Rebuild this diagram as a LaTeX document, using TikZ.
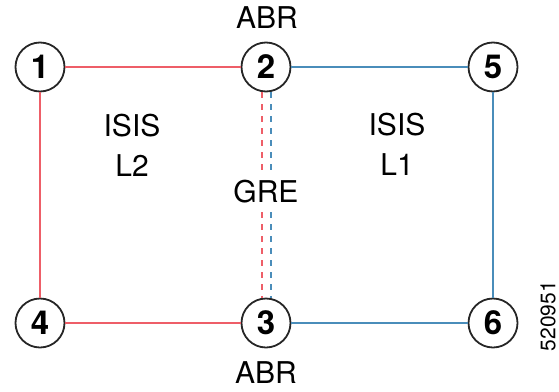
\documentclass[tikz,border=0pt]{standalone}
\usepackage{fontspec}
\setmainfont{TeX Gyre Heros}
\definecolor{redline}{HTML}{EE5E68}
\definecolor{blueline}{HTML}{4A8DBA}
\begin{document}
\begin{tikzpicture}[x=1pt,y=-1pt,
  router/.style={circle,draw=black!85,line width=1.8pt,fill=white,minimum size=49pt,inner sep=0pt,font=\fontsize{33}{33}\selectfont\bfseries},
  lbl/.style={font=\fontsize{30}{30}\selectfont,inner sep=0pt,align=center},
  rlink/.style={draw=redline,line width=1.4pt},
  blink/.style={draw=blueline,line width=1.4pt},
  tun/.style={line width=1.6pt,dash pattern=on 6pt off 6pt}]
\useasboundingbox (0,0) rectangle (559,391);
\node[router] (n1) at (40,67) {1};
\node[router] (n2) at (266,67) {2};
\node[router] (n5) at (493,67) {5};
\node[router] (n4) at (40,323) {4};
\node[router] (n3) at (266,323) {3};
\node[router] (n6) at (493,323) {6};
\coordinate (r2) at ([xshift=-4pt]n2.south);
\coordinate (r3) at ([xshift=-4pt]n3.north);
\coordinate (b2) at ([xshift=5pt]n2.south);
\coordinate (b3) at ([xshift=5pt]n3.north);
\draw[rlink] (n1) -- (n2);
\draw[rlink] (n1) -- (n4);
\draw[rlink] (n4) -- (n3);
\draw[blink] (n2) -- (n5);
\draw[blink] (n5) -- (n6);
\draw[blink] (n3) -- (n6);
\draw[tun,draw=redline] (r2) -- (r3);
\draw[tun,draw=blueline] (b2) -- (b3);
\node[lbl,fill=white,inner xsep=2pt,inner ysep=9pt] (gre) at (266,192) {GRE};
\node[lbl] (abr1) at (267,18) {ABR};
\node[lbl] (abr2) at (266,373) {ABR};
\node[lbl] (isis2) at (132,126) {ISIS};
\node[lbl] (l2) at (132,166) {L2};
\node[lbl] (isis1) at (397,125) {ISIS};
\node[lbl] (l1) at (397,165) {L1};
\node[font=\fontsize{21}{21}\selectfont,rotate=90,inner sep=0pt,anchor=center] (id) at (548,316) {520951};
\end{tikzpicture}
\end{document}
